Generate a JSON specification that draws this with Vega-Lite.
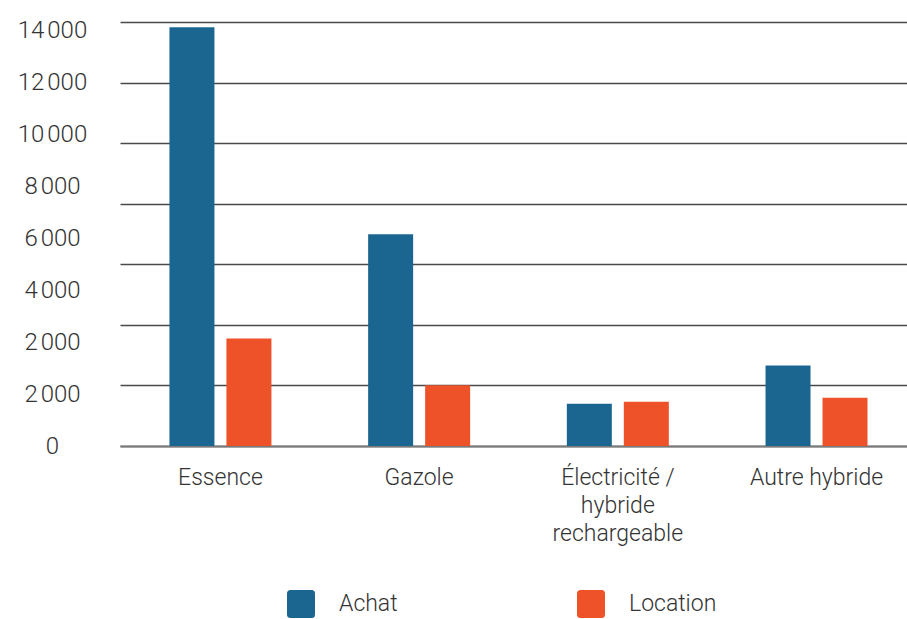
{
  "$schema": "https://vega.github.io/schema/vega-lite/v6.json",
  "autosize": {"type": "none"},
  "padding": {"left": 120, "top": 22, "right": 0, "bottom": 173},
  "width": 787,
  "height": 424,
  "background": "white",
  "config": {"view": {"stroke": null}, "font": "Roboto"},
  "data": {
    "values": [
      {"type": "Essence", "mode": "Achat", "value": 13828},
      {"type": "Essence", "mode": "Location", "value": 3548},
      {"type": "Gazole", "mode": "Achat", "value": 6990},
      {"type": "Gazole", "mode": "Location", "value": 2007},
      {"type": "Électricité / hybride rechargeable", "mode": "Achat", "value": 1393},
      {"type": "Électricité / hybride rechargeable", "mode": "Location", "value": 1459},
      {"type": "Autre hybride", "mode": "Achat", "value": 2657},
      {"type": "Autre hybride", "mode": "Location", "value": 1591}
    ]
  },
  "layer": [
    {
      "mark": {"type": "bar"},
      "encoding": {
        "x": {
          "field": "type",
          "type": "nominal",
          "sort": ["Essence", "Gazole", "Électricité / hybride rechargeable", "Autre hybride"],
          "scale": {"paddingInner": 0.4867, "paddingOuter": 0.2238, "align": 0.556},
          "axis": {
            "title": null,
            "labelAngle": 0,
            "ticks": false,
            "domain": true,
            "domainColor": "#7a7a7a",
            "domainWidth": 2,
            "labelFontSize": 23,
            "labelFontWeight": 300,
            "labelColor": "#333333",
            "labelPadding": 20,
            "labelLineHeight": 28,
            "labelLimit": 0,
            "labelExpr": "datum.label == 'Électricité / hybride rechargeable' ? ['Électricité /', 'hybride', 'rechargeable'] : datum.label"
          }
        },
        "xOffset": {
          "field": "mode",
          "sort": ["Achat", "Location"],
          "scale": {"paddingInner": 0.2105, "paddingOuter": 0}
        },
        "y": {
          "field": "value",
          "type": "quantitative",
          "scale": {"domain": [0, 14000], "nice": false},
          "axis": {
            "orient": "left",
            "title": null,
            "values": [0, 2000, 4000, 6000, 8000, 10000, 12000, 14000],
            "labels": false,
            "ticks": false,
            "domain": false,
            "grid": true,
            "gridColor": "#4a4a4a",
            "gridWidth": 1.5
          }
        },
        "color": {
          "field": "mode",
          "type": "nominal",
          "scale": {"domain": ["Achat", "Location"], "range": ["#1a6690", "#ee5228"]},
          "legend": {
            "title": null,
            "orient": "none",
            "legendX": 167,
            "legendY": 568,
            "direction": "horizontal",
            "padding": 0,
            "symbolType": "M-0.75,-1H0.75Q1,-1 1,-0.75V0.75Q1,1 0.75,1H-0.75Q-1,1 -1,0.75V-0.75Q-1,-1 -0.75,-1Z",
            "symbolSize": 784,
            "symbolStrokeWidth": 0,
            "symbolOpacity": 1,
            "labelFontSize": 23,
            "labelFontWeight": 300,
            "labelColor": "#333333",
            "labelOffset": 24,
            "columnPadding": 179
          }
        }
      }
    },
    {
      "mark": {"type": "point", "opacity": 0},
      "encoding": {
        "y": {
          "datum": 0,
          "type": "quantitative",
          "scale": {"domain": [0, 8.154], "nice": false},
          "axis": {
            "orient": "left",
            "title": null,
            "values": [0, 1, 2, 3, 4, 5, 6, 7, 8],
            "labelExpr": "['0', '2\u202f000', '2\u202f000', '4\u202f000', '6\u202f000', '8\u202f000', '10\u202f000', '12\u202f000', '14\u202f000'][datum.value]",
            "grid": false,
            "ticks": false,
            "tickSize": 0,
            "domain": false,
            "labelPadding": 68,
            "labelAlign": "center",
            "labelBaseline": "middle",
            "labelFontSize": 24,
            "labelFontWeight": 300,
            "labelColor": "#333333"
          }
        }
      }
    }
  ],
  "resolve": {"scale": {"y": "independent"}, "axis": {"y": "independent"}}
}
